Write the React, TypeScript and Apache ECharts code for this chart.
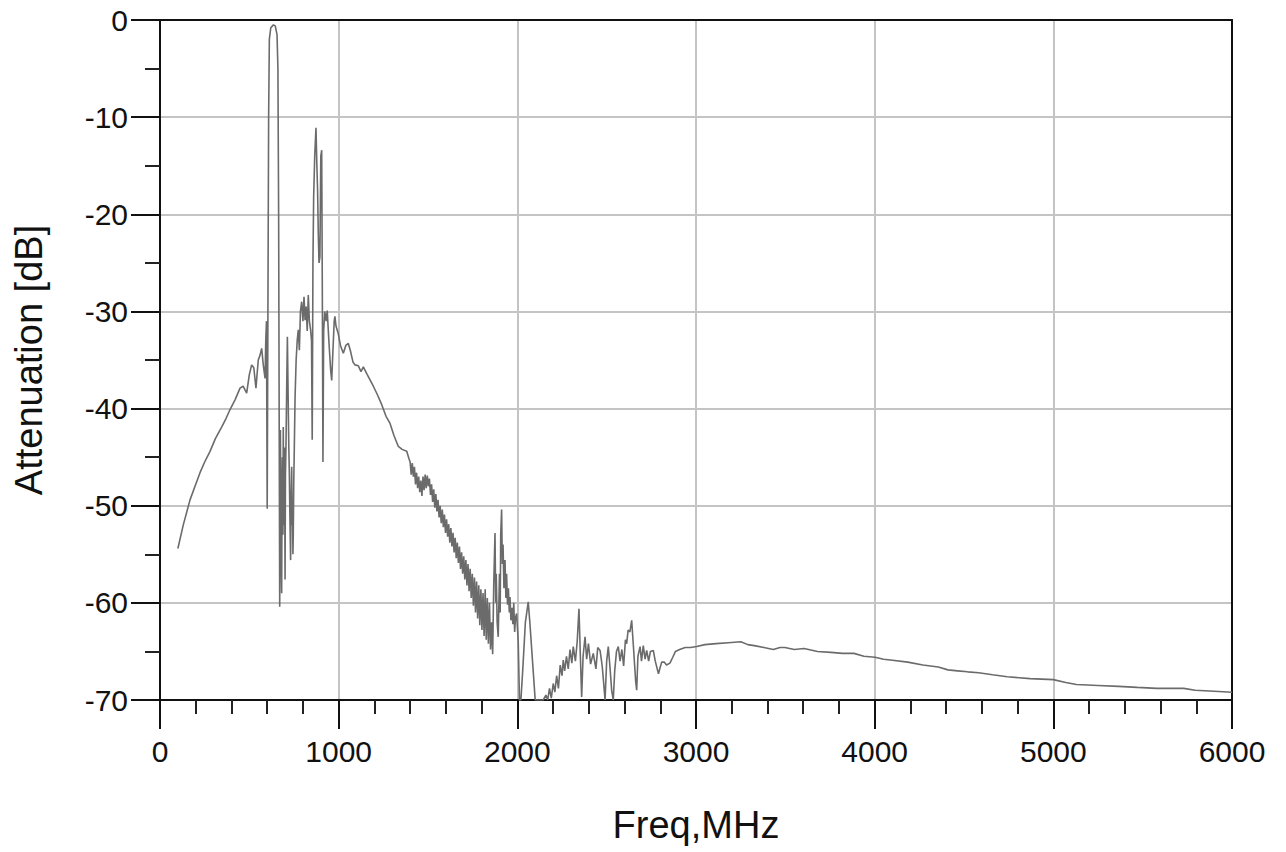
import React, { useEffect, useRef } from "react";
import * as echarts from "echarts";

// Measured attenuation trace: [frequency MHz, attenuation dB]
const TRACE: [number, number][] = [
  [100, -54.4], [130, -52], [168, -49.4], [200, -47.8], [224, -46.6], [250, -45.5],
  [280, -44.4], [310, -43.1], [345, -41.9], [370, -41], [392, -40.1], [420, -39.1],
  [448, -37.9], [465, -37.7], [485, -38.4], [500, -36.5], [513, -35.5], [525, -35.8],
  [537, -37.9], [550, -35], [560, -34.5], [569, -33.8], [578, -35.5], [588, -36.9],
  [592, -33], [596, -31], [600, -50.3], [604, -30], [608, -10], [612, -2], [620, -0.8],
  [635, -0.5], [645, -0.6], [655, -1.5], [660, -5], [664, -20], [667, -40.5], [670, -60.4],
  [674, -42.2], [676, -50], [678, -55], [681, -59], [683, -48], [685, -45], [688, -53],
  [690, -41.9], [692, -49], [694, -52], [697, -44], [700, -57.6], [702, -47],
  [705, -44], [709, -38], [713, -32.6], [718, -40], [721, -44], [724, -46.7], [727, -51],
  [731, -55.6], [734, -49], [737, -46], [740, -52], [742, -50], [744, -55],
  [746, -52.8], [749, -47], [751, -45], [756, -38.8], [762, -35], [768, -33], [774, -31.9], [780, -34],
  [786, -30], [793, -29], [800, -31], [806, -28.5], [812, -30.9], [818, -29.5], [824, -32],
  [830, -28.3], [836, -31], [843, -31.9], [848, -33], [852, -43.2], [856, -25], [860, -18.2],
  [866, -14], [873, -11.1], [878, -15], [882, -17.5], [886, -22], [890, -25], [895, -24.4],
  [900, -14], [905, -13.4], [909, -30], [912, -45.5], [916, -32], [922, -30], [930, -31],
  [936, -29.9], [945, -33], [955, -36], [961, -37.1], [968, -34], [975, -31], [979, -30.5],
  [985, -31.5], [998, -32.3], [1010, -33.5], [1026, -34.3], [1040, -33.5], [1054, -33.3],
  [1065, -34], [1080, -35.2], [1091, -35.5], [1110, -35.6], [1125, -36.2], [1138, -35.7], [1160, -36.5],
  [1194, -37.7], [1215, -38.5], [1241, -39.6], [1265, -40.8], [1287, -41.5], [1310, -42.8],
  [1334, -43.9], [1355, -44.2], [1381, -44.4], [1394, -45.2],
  [1400, -45.5], [1406, -46.8], [1412, -45.6], [1418, -47], [1424, -46], [1430, -47.8],
  [1436, -46.6], [1442, -48.2], [1448, -47], [1454, -48.6], [1460, -47.4], [1466, -49],
  [1472, -47], [1478, -48.4], [1484, -46.8], [1490, -48.2], [1496, -46.9], [1502, -48],
  [1508, -47.2], [1514, -48.9], [1520, -47.8], [1526, -49.6], [1532, -48.3], [1538, -50.2],
  [1544, -48.8], [1550, -50.6], [1556, -49.4], [1562, -51.2], [1568, -50], [1574, -51.8],
  [1580, -50.4], [1586, -52.2], [1592, -50.9], [1598, -52.8], [1604, -51.4], [1610, -53.2],
  [1616, -51.9], [1622, -53.8], [1628, -52.3], [1634, -54.2], [1640, -52.8], [1646, -54.8],
  [1652, -53.3], [1658, -55.4], [1664, -53.8], [1670, -55.9], [1676, -54.2], [1682, -56.5],
  [1688, -54.8], [1694, -57], [1700, -55.2], [1706, -57.6], [1712, -55.6], [1718, -58.2],
  [1724, -56], [1730, -58.8], [1736, -56.5], [1742, -59.5], [1748, -57], [1754, -60.3],
  [1760, -57.4], [1766, -61], [1772, -57.8], [1778, -61.6], [1784, -58.2], [1790, -62.3],
  [1796, -58.6], [1802, -62.8], [1808, -59], [1814, -63.4], [1820, -58.6], [1826, -63.8],
  [1832, -59.5], [1838, -64.2], [1844, -60], [1850, -64.8], [1856, -62], [1862, -65.3],
  [1868, -58], [1875, -52.8], [1879, -60], [1882, -57], [1887, -62], [1893, -63.5],
  [1900, -57], [1904, -61], [1907, -53], [1912, -50.4], [1916, -56], [1920, -54],
  [1925, -58.5], [1931, -55.6], [1936, -59.5], [1940, -57], [1945, -60.2],
  [1950, -58.5], [1955, -61], [1959, -59.4], [1964, -61.8], [1970, -60.5], [1975, -62.2],
  [1980, -60], [1985, -63], [1990, -61.5], [1996, -61.1],
  [2005, -64], [2012, -70], [2020, -70], [2030, -67], [2045, -62], [2061, -59.9], [2070, -62],
  [2085, -66], [2100, -70], [2108, -70], [2145, -70], [2160, -69.5], [2170, -70], [2180, -68.8],
  [2190, -69.8], [2201, -68.3], [2210, -69.2], [2220, -67.5], [2230, -68.8], [2240, -66.4],
  [2250, -67.5], [2257, -65.9], [2265, -67], [2275, -65.5], [2285, -66.8], [2295, -64.8],
  [2305, -66.2], [2313, -64.5], [2325, -66], [2335, -64], [2345, -60.6], [2352, -65],
  [2360, -69.7], [2368, -65.5], [2379, -63.5], [2388, -65.8], [2398, -64.2], [2410, -66.3],
  [2425, -65.2], [2440, -66.8], [2450, -64.6], [2463, -64.9], [2475, -66.5], [2482, -68],
  [2491, -70], [2500, -66], [2509, -64.5], [2518, -66.5], [2528, -69], [2537, -70],
  [2545, -67], [2555, -65], [2565, -64.5], [2575, -66], [2585, -64.8], [2595, -66.5],
  [2605, -63.8], [2612, -64.2], [2620, -62.8], [2630, -63], [2640, -61.8], [2648, -64],
  [2655, -66], [2662, -68], [2668, -69], [2675, -65.5], [2687, -64.5], [2695, -66],
  [2705, -64.4], [2715, -65.8], [2724, -64.9], [2735, -66], [2745, -65], [2761, -64.9],
  [2772, -66], [2790, -67.3], [2800, -66.6], [2808, -66.1], [2822, -66.1], [2835, -66.4],
  [2854, -66.2], [2870, -65.6], [2885, -65], [2908, -64.8], [2940, -64.6], [2970, -64.6],
  [3004, -64.5], [3050, -64.3], [3112, -64.2], [3180, -64.1], [3251, -64.0], [3290, -64.3],
  [3326, -64.4], [3380, -64.6], [3433, -64.8], [3470, -64.6], [3498, -64.6], [3550, -64.8],
  [3605, -64.7], [3680, -65], [3755, -65.1], [3820, -65.2], [3884, -65.2], [3940, -65.5],
  [4002, -65.6], [4050, -65.8], [4100, -65.9], [4185, -66.1], [4270, -66.4], [4356, -66.6],
  [4410, -66.9], [4464, -67.0], [4520, -67.1], [4582, -67.2], [4660, -67.4], [4742, -67.6],
  [4870, -67.8], [5000, -67.9], [5070, -68.2], [5129, -68.4], [5250, -68.5], [5365, -68.6],
  [5470, -68.7], [5579, -68.8], [5660, -68.8], [5730, -68.8], [5794, -69.0], [5900, -69.1],
  [6000, -69.2],
];

const X_RANGE = [0, 6000];
const X_STEP = 1000;
const Y_RANGE = [-70, 0];
const Y_STEP = 10;
const X_NAME = "Freq,MHz";
const Y_NAME = "Attenuation [dB]";

const FONT = "'Liberation Sans', Arial, Helvetica, sans-serif";

export default function App() {
  const ref = useRef<HTMLDivElement>(null);
  useEffect(() => {
    if (!ref.current) return;
    const chart = echarts.init(ref.current, null, { renderer: "svg" });
    chart.setOption({
      animation: false,
      backgroundColor: "#ffffff",
      grid: { left: 160, top: 20, width: 1072, height: 680, show: false },
      xAxis: [
        {
          type: "value",
          min: X_RANGE[0],
          max: X_RANGE[1],
          interval: X_STEP,
          name: X_NAME,
          nameLocation: "middle",
          nameGap: 106,
          nameTextStyle: { fontFamily: FONT, fontSize: 38, color: "#111" },
          axisLine: { show: true, onZero: false, lineStyle: { color: "#111", width: 2 } },
          axisTick: { show: true, inside: false, length: 29, lineStyle: { color: "#111", width: 2 } },
          minorTick: { show: true, splitNumber: 5, length: 14, lineStyle: { color: "#222", width: 2 } },
          axisLabel: {
            margin: 36,
            fontFamily: FONT,
            fontSize: 30,
            color: "#111",
            formatter: (v: number) => String(v),
          },
          splitLine: { show: true, showMinLine: false, showMaxLine: false, lineStyle: { color: "#c4c4c4", width: 2 } },
        },
        {
          type: "value",
          position: "top",
          min: X_RANGE[0],
          max: X_RANGE[1],
          axisLine: { show: true, onZero: false, lineStyle: { color: "#111", width: 2 } },
          axisTick: { show: false },
          axisLabel: { show: false },
          splitLine: { show: false },
        },
      ],
      yAxis: [
        {
          type: "value",
          min: Y_RANGE[0],
          max: Y_RANGE[1],
          interval: Y_STEP,
          name: Y_NAME,
          nameLocation: "middle",
          nameGap: 112,
          nameTextStyle: { fontFamily: FONT, fontSize: 38, color: "#111" },
          axisLine: { show: true, onZero: false, lineStyle: { color: "#111", width: 2 } },
          axisTick: { show: true, inside: false, length: 29, lineStyle: { color: "#111", width: 2 } },
          minorTick: { show: true, splitNumber: 2, length: 15, lineStyle: { color: "#222", width: 2 } },
          axisLabel: { margin: 32, fontFamily: FONT, fontSize: 30, color: "#111" },
          splitLine: { show: true, showMinLine: false, showMaxLine: false, lineStyle: { color: "#c4c4c4", width: 2 } },
        },
        {
          type: "value",
          position: "right",
          min: Y_RANGE[0],
          max: Y_RANGE[1],
          axisLine: { show: true, onZero: false, lineStyle: { color: "#111", width: 2 } },
          axisTick: { show: false },
          axisLabel: { show: false },
          splitLine: { show: false },
        },
      ],
      series: [
        {
          type: "line",
          xAxisIndex: 0,
          yAxisIndex: 0,
          data: TRACE,
          showSymbol: false,
          symbol: "none",
          clip: true,
          lineStyle: { color: "#6b6b6b", width: 1.6 },
          z: 3,
        },
      ],
    });
    return () => chart.dispose();
  }, []);
  return (
    <div
      ref={ref}
      style={{ position: "fixed", left: 0, top: 0, width: 1286, height: 852, background: "#fff" }}
    />
  );
}
